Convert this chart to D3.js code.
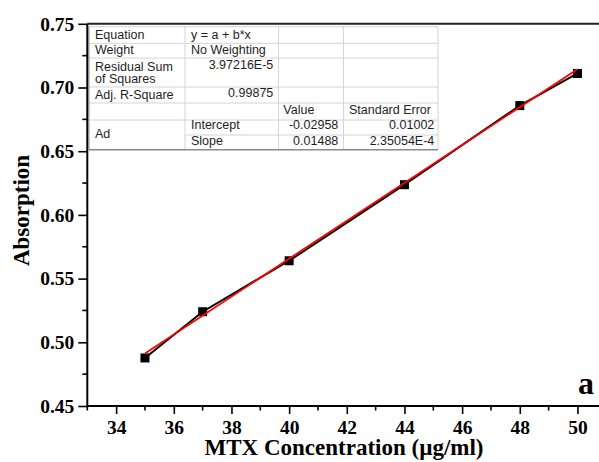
<!DOCTYPE html>
<html>
<head>
<meta charset="utf-8">
<script src="https://cdn.jsdelivr.net/npm/d3@7"></script>
<style>
  html, body { margin: 0; padding: 0; background: #fff; overflow: hidden; }
  svg { display: block; }
  .tick text { font-family: "Liberation Serif", "Times New Roman", serif; font-weight: bold; fill: #000; }
</style>
</head>
<body>
<div id="chart"></div>
<script>
// Measured points (MTX concentration vs absorption)
var concentration = [35, 37, 40, 44, 48, 50];
var absorption = [0.4877, 0.524, 0.564, 0.6237, 0.6858, 0.711];

// Linear fit parameters from the report table
var fitIntercept = -0.02958;
var fitSlope = 0.01488;

var xTicks = [34, 36, 38, 40, 42, 44, 46, 48, 50];
var xMinor = [33, 35, 37, 39, 41, 43, 45, 47, 49, 51];
var yTicks = [0.45, 0.50, 0.55, 0.60, 0.65, 0.70, 0.75];
var yMinor = [0.475, 0.525, 0.575, 0.625, 0.675, 0.725];

// Fit report table text
var tableLabels = ['Equation', 'Weight', 'Residual Sum|of Squares', 'Adj. R-Square', '', 'Ad'];
var tableRowValues = ['y = a + b*x', 'No Weighting', '3.97216E-5', '0.99875'];
var paramHeaders = ['Value', 'Standard Error'];
var paramNames = ['Intercept', 'Slope'];
var paramValues = ['-0.02958', '0.01488'];
var paramErrors = ['0.01002', '2.35054E-4'];

var W = 599, H = 462;
var svg = d3.select('#chart').append('svg')
  .attr('width', W).attr('height', H);

var x = d3.scaleLinear().domain([33, 51]).range([87.3, 606.3]);
var y = d3.scaleLinear().domain([0.45, 0.75]).range([406, 23.8]);

var serif = '"Liberation Serif", "Times New Roman", serif';
var sans = '"Liberation Sans", Arial, sans-serif';

// top frame line
svg.append('line')
  .attr('x1', x(33)).attr('x2', W)
  .attr('y1', y(0.75)).attr('y2', y(0.75))
  .attr('stroke', '#222').attr('stroke-width', 2);

// ---- Fit report table ----
var t = svg.append('g');
var colX = [89, 185, 278.5, 343.5, 438];
var rowY = [26.7, 43.3, 58, 87, 103, 120, 135, 149.7];
var grid = '#d4d4d4';

// horizontal grid
rowY.slice(0, 6).forEach(function (ry) {
  t.append('line').attr('x1', colX[0]).attr('x2', colX[4])
    .attr('y1', ry).attr('y2', ry).attr('stroke', grid).attr('stroke-width', 1);
});
t.append('line').attr('x1', colX[1]).attr('x2', colX[4])
  .attr('y1', rowY[6]).attr('y2', rowY[6]).attr('stroke', grid).attr('stroke-width', 1);
// vertical grid
colX.forEach(function (cx, i) {
  t.append('line').attr('x1', cx).attr('x2', cx)
    .attr('y1', rowY[0]).attr('y2', rowY[7])
    .attr('stroke', i === 0 ? '#9a9a9a' : grid).attr('stroke-width', 1);
});
// bottom border
t.append('line').attr('x1', colX[0]).attr('x2', colX[4])
  .attr('y1', rowY[7]).attr('y2', rowY[7]).attr('stroke', '#8a8a8a').attr('stroke-width', 1.6);

function cell(txt, xx, yy, anchor) {
  t.append('text').attr('x', xx).attr('y', yy)
    .attr('text-anchor', anchor || 'start')
    .attr('font-family', sans).attr('font-size', '12.5px')
    .attr('fill', '#1e1e1e').text(txt);
}

var labelBase = [39, 54.3, 71, 99.3, 0, 138.3];
tableLabels.forEach(function (lab, i) {
  if (!lab) return;
  var parts = lab.split('|');
  cell(parts[0], 95, labelBase[i]);
  if (parts[1]) cell(parts[1], 95, labelBase[i] + 11.8);
});
cell(tableRowValues[0], 191, 39);
cell(tableRowValues[1], 191, 54.3);
cell(tableRowValues[2], 273.3, 69, 'end');
cell(tableRowValues[3], 273.3, 97.3, 'end');
cell(paramHeaders[0], 283.3, 114);
cell(paramHeaders[1], 349, 114);
var pBase = [129.3, 145];
paramNames.forEach(function (n, i) {
  cell(n, 191, pBase[i]);
  cell(paramValues[i], 338.3, pBase[i], 'end');
  cell(paramErrors[i], 434.3, pBase[i], 'end');
});

// ---- Axes ----
var xAxis = svg.append('g')
  .attr('transform', 'translate(0,' + y(0.45) + ')')
  .call(d3.axisBottom(x).tickValues(xTicks).tickSize(8).tickPadding(6).tickFormat(d3.format('d')));
xAxis.select('.domain').attr('d', 'M' + x(33) + ',0H' + x(51)).attr('stroke', '#000').attr('stroke-width', 2);
xAxis.selectAll('.tick line').attr('stroke', '#000').attr('stroke-width', 1.6);
xAxis.selectAll('.tick text').attr('font-size', '19.5px');
xAxis.selectAll('.minor').data(xMinor).join('line')
  .attr('class', 'minor')
  .attr('x1', function (d) { return x(d); }).attr('x2', function (d) { return x(d); })
  .attr('y1', 0).attr('y2', 4.5).attr('stroke', '#000').attr('stroke-width', 1.6);

var yAxis = svg.append('g')
  .attr('transform', 'translate(' + x(33) + ',0)')
  .call(d3.axisLeft(y).tickValues(yTicks).tickSize(9).tickPadding(4).tickFormat(d3.format('.2f')));
yAxis.select('.domain').attr('d', 'M0,' + y(0.45) + 'V' + y(0.75)).attr('stroke', '#000').attr('stroke-width', 2);
yAxis.selectAll('.tick line').attr('stroke', '#000').attr('stroke-width', 1.6);
yAxis.selectAll('.tick text').attr('font-size', '19.5px');
yAxis.selectAll('.minor').data(yMinor).join('line')
  .attr('class', 'minor')
  .attr('y1', function (d) { return y(d); }).attr('y2', function (d) { return y(d); })
  .attr('x1', 0).attr('x2', -5).attr('stroke', '#000').attr('stroke-width', 1.6);

// axis titles
svg.append('text')
  .attr('x', 344).attr('y', 455)
  .attr('text-anchor', 'middle')
  .attr('font-family', serif).attr('font-weight', 'bold').attr('font-size', '23px')
  .text('MTX Concentration (\u00b5g/ml)');
svg.append('text')
  .attr('transform', 'translate(29,210.5) rotate(-90)')
  .attr('text-anchor', 'middle')
  .attr('font-family', serif).attr('font-weight', 'bold').attr('font-size', '23px')
  .text('Absorption');

// panel letter
svg.append('text')
  .attr('x', 578).attr('y', 394)
  .attr('font-family', serif).attr('font-weight', 'bold').attr('font-size', '32px')
  .text('a');

// ---- Data ----
var pts = concentration.map(function (c, i) { return [c, absorption[i]]; });

svg.append('path')
  .datum(pts)
  .attr('fill', 'none').attr('stroke', '#000').attr('stroke-width', 2)
  .attr('d', d3.line().x(function (d) { return x(d[0]); }).y(function (d) { return y(d[1]); }));

var ms = 9;
svg.selectAll('rect.pt').data(pts).join('rect')
  .attr('class', 'pt')
  .attr('x', function (d) { return x(d[0]) - ms / 2; })
  .attr('y', function (d) { return y(d[1]) - ms / 2; })
  .attr('width', ms).attr('height', ms)
  .attr('fill', '#000');

// linear fit, drawn over the markers
var fitX = d3.extent(concentration);
svg.append('path')
  .datum(fitX)
  .attr('fill', 'none').attr('stroke', '#ff0000').attr('stroke-width', 1.8)
  .attr('d', d3.line()
    .x(function (d) { return x(d); })
    .y(function (d) { return y(fitIntercept + fitSlope * d); }));
</script>
</body>
</html>
